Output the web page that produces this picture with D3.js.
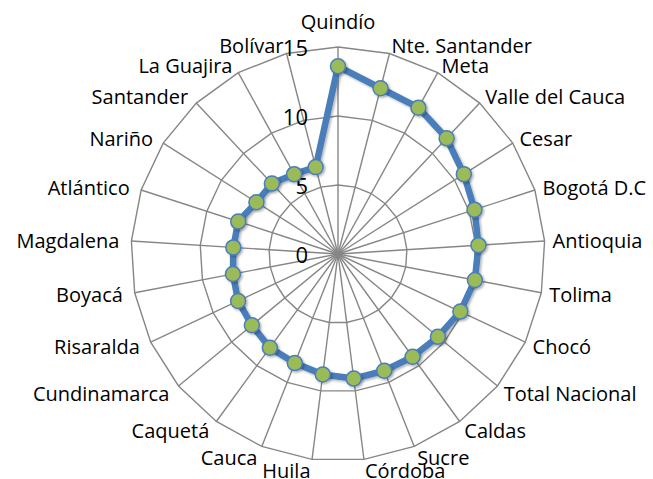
<!DOCTYPE html>
<html>
<head>
<meta charset="utf-8">
<script src="https://d3js.org/d3.v7.min.js"></script>
<style>
  body { margin: 0; background: #fff; }
  svg text { font-family: "Open Sans", Lato, sans-serif; fill: #000; }
</style>
</head>
<body>
<div id="chart"></div>
<script>
// categories clockwise from the top
const categories = ["Quindío", "Nte. Santander", "Meta", "Valle del Cauca", "Cesar", "Bogotá D.C",
  "Antioquia", "Tolima", "Chocó", "Total Nacional", "Caldas", "Sucre", "Córdoba", "Huila",
  "Cauca", "Caquetá", "Cundinamarca", "Risaralda", "Boyacá", "Magdalena", "Atlántico",
  "Nariño", "Santander", "La Guajira", "Bolívar"];
const values = [13.6, 12.4, 12.1, 11.5, 10.8, 10.4, 10.2, 10.1, 9.8, 9.4, 9.2, 9.1, 9.1, 8.8,
  8.5, 8.4, 8.1, 8.0, 7.75, 7.6, 7.6, 7.0, 7.0, 6.6, 6.5];
const tickValues = [0, 5, 10, 15];

const width = 653, height = 479;
const cx = 338, cy = 254, R = 207;

const svg = d3.select("#chart").append("svg")
  .attr("width", width)
  .attr("height", height);

const defs = svg.append("defs");
const shadow = defs.append("filter").attr("id", "shadow")
  .attr("x", "-20%").attr("y", "-20%").attr("width", "150%").attr("height", "150%");
shadow.append("feDropShadow")
  .attr("dx", 1.5).attr("dy", 1.5).attr("stdDeviation", 1.2)
  .attr("flood-color", "#000").attr("flood-opacity", 0.3);

const r = d3.scaleLinear().domain([0, 15]).range([0, R]);
const angle = d3.scaleLinear().domain([0, categories.length]).range([0, 2 * Math.PI]);

const px = (i, v) => cx + r(v) * Math.sin(angle(i));
const py = (i, v) => cy - r(v) * Math.cos(angle(i));

const g = svg.append("g");

// spokes
g.selectAll(".spoke")
  .data(categories)
  .join("line")
  .attr("x1", cx).attr("y1", cy)
  .attr("x2", (d, i) => px(i, 15))
  .attr("y2", (d, i) => py(i, 15))
  .attr("stroke", "#868686")
  .attr("stroke-width", 1.4);

// rings (polygons)
g.selectAll(".ring")
  .data(tickValues.filter(t => t > 0))
  .join("polygon")
  .attr("points", t => categories.map((c, i) => px(i, t) + "," + py(i, t)).join(" "))
  .attr("fill", "none")
  .attr("stroke", "#868686")
  .attr("stroke-width", 1.4);

// tick labels
g.selectAll(".tick")
  .data(tickValues)
  .join("text")
  .attr("x", cx - 30)
  .attr("y", t => cy - r(t) + 3)
  .attr("text-anchor", "end")
  .attr("dominant-baseline", "middle")
  .style("font-size", "22px")
  .text(t => t);

// category labels
g.selectAll(".cat")
  .data(categories)
  .join("text")
  .attr("x", (d, i) => {
    const s = Math.sin(angle(i));
    if (Math.abs(s) < 0.05) return px(i, 15);
    return px(i, 15) + (s > 0 ? 8 * s : 12 * s);
  })
  .attr("y", (d, i) => {
    const c = Math.cos(angle(i));
    if (i === 0) return py(i, 15) - 18;
    return py(i, 15) + 7 - (c > 0 ? 8 * c : 12 * c);
  })
  .attr("text-anchor", (d, i) => {
    const s = Math.sin(angle(i));
    return Math.abs(s) < 0.05 ? "middle" : (s > 0 ? "start" : "end");
  })
  .style("font-size", "20px")
  .text(d => d);

// data line
const line = d3.line()
  .x((d, i) => px(i, d))
  .y((d, i) => py(i, d))
  .curve(d3.curveLinearClosed);

g.append("path")
  .datum(values)
  .attr("d", line)
  .attr("fill", "none")
  .attr("stroke", "#4a7ebb")
  .attr("stroke-width", 6.5)
  .attr("stroke-linejoin", "round")
  .attr("filter", "url(#shadow)");

g.selectAll(".pt")
  .data(values)
  .join("circle")
  .attr("cx", (d, i) => px(i, d))
  .attr("cy", (d, i) => py(i, d))
  .attr("r", 7.5)
  .attr("fill", "#9bbb59")
  .attr("stroke", "#4a7ebb")
  .attr("stroke-width", 1.5)
  .attr("filter", "url(#shadow)");
</script>
</body>
</html>
